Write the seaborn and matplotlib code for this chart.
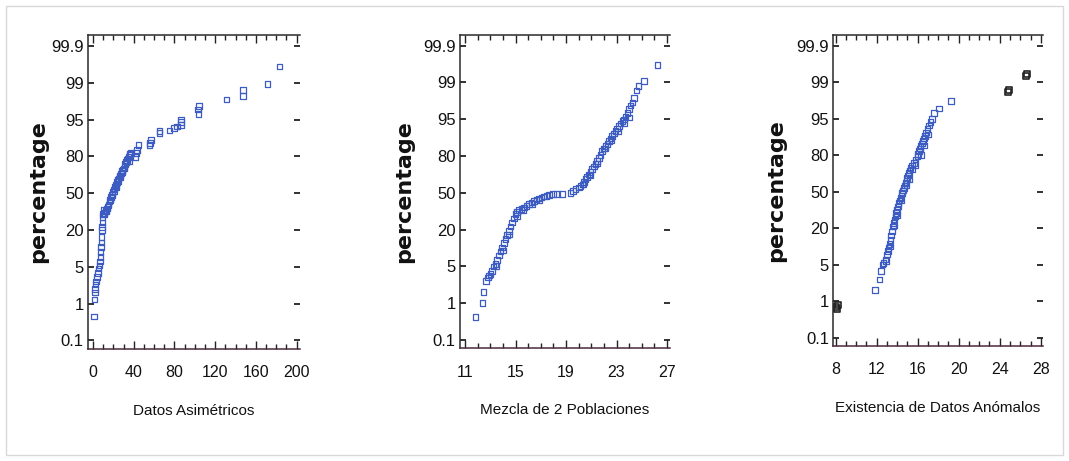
import numpy as np
import pandas as pd
import matplotlib
matplotlib.use('Agg')
import matplotlib.pyplot as plt
from matplotlib import font_manager
import seaborn as sns

# Labels of the normal probability scale (drawn evenly spaced)
pct_ticks = [0.1, 1, 5, 20, 50, 80, 95, 99, 99.9]
pct_labels = ['0.1', '1', '5', '20', '50', '80', '95', '99', '99.9']

# Panel 1: skewed data
asim_x = [0.7, 1.4, 1.8, 2.0, 2.6, 3.0, 3.8, 4.6, 5.4, 6.2, 6.8, 7.2, 7.5, 7.8, 8.1, 8.5,
          8.7, 8.8, 9.1, 9.4, 9.9, 10.4, 11.2, 12.0, 12.7, 13.5, 14.4, 15.2, 16.0, 16.8,
          17.7, 18.5, 19.3, 20.1, 20.9, 21.7, 22.6, 23.4, 24.2, 25.0, 25.8, 26.6, 27.5,
          28.3, 29.1, 30.0, 30.8, 31.6, 32.4, 33.2, 34.0, 34.8, 35.7, 36.5, 37.3, 41.6,
          42.4, 43.3, 44.6, 55.4, 56.2, 57.0, 65.2, 65.2, 75.0, 79.3, 82.5, 86.5, 86.5,
          86.5, 102.9, 103.5, 104.0, 131.0, 147.5, 147.5, 171.5, 183.0,
          11.0, 13.0, 15.0, 17.0, 19.0, 21.0, 23.0, 25.0, 27.0, 29.0, 31.0, 33.0, 36.0]
asim_pct = [0.68, 1.44, 2.2, 2.6, 3.1, 3.4, 3.9, 4.3, 4.8, 5.6, 7.2, 9.0, 11.0, 13.1, 15.0, 17.2,
            20.0, 22.7, 26.0, 30.8, 33.0, 36.2, 34.0, 35.5, 35.0, 37.5, 38.9, 41.0, 43.1, 45.0,
            47.0, 49.0, 51.2, 53.0, 53.9, 55.5, 56.6, 59.0, 60.8, 62.0, 63.5, 64.5, 66.2,
            68.0, 68.9, 70.0, 71.6, 74.0, 75.8, 77.0, 78.5, 79.5, 80.6, 81.0, 81.4, 79.7,
            81.5, 82.7, 84.7, 84.7, 85.5, 86.8, 89.5, 90.3, 90.5, 91.6, 92.2, 92.8, 94.0,
            95.0, 96.1, 95.6, 96.5, 97.2, 97.6, 98.2, 98.9, 99.4,
            33.0, 36.5, 40.0, 44.0, 48.5, 52.0, 55.0, 60.0, 63.0, 67.0, 70.0, 75.0, 76.0]

# Panel 2: mixture of two populations
mezcla_x = [11.82, 12.40, 12.48, 12.67, 12.80, 12.88, 13.0, 13.14, 13.27, 13.40, 13.53, 13.67,
            13.80, 13.94, 14.07, 14.20, 14.33, 14.47, 14.60, 14.73, 14.86, 15.00, 15.13, 15.26,
            15.46, 15.66, 15.86, 16.05, 16.25, 16.45, 16.65, 16.85, 17.05, 17.25, 17.45, 17.64,
            17.96, 18.3, 18.7, 19.36, 19.55, 19.75, 20.02, 20.15, 20.29, 20.42, 20.55, 20.68,
            20.81, 20.94, 21.07, 21.2, 21.34, 21.47, 21.6, 21.74, 21.87, 22.0, 22.13, 22.27,
            22.4, 22.53, 22.66, 22.79, 22.92, 23.06, 23.2, 23.33, 23.46, 23.59, 23.72, 23.86,
            23.99, 24.12, 24.25, 24.39, 24.57, 24.73, 25.18, 26.24,
            13.5, 14.0, 14.5, 15.1, 15.6, 16.3, 16.9, 20.4, 20.9, 21.5, 22.1, 22.6, 23.1,
            23.6, 24.0]
mezcla_pct = [0.66, 1.04, 2.2, 3.4, 3.8, 4.0, 4.2, 4.5, 5.0, 5.9, 7.5, 9.4,
              11.0, 12.7, 14.5, 16.1, 17.8, 19.5, 22.5, 25.7, 29.0, 32.6, 34.5, 35.9,
              37.0, 38.0, 39.3, 40.7, 42.0, 43.4, 44.5, 45.5, 46.3, 47.0, 47.6, 48.2,
              48.8, 48.8, 48.8, 50.0, 51.5, 53.0, 54.2, 55.5, 56.9, 59.0, 61.1, 63.0,
              65.0, 67.0, 69.2, 71.3, 73.4, 76.0, 78.5, 80.3, 82.1, 83.0, 84.0, 85.0,
              86.1, 87.1, 88.1, 89.1, 90.2, 91.2, 92.2, 93.2, 94.2, 94.8, 95.3, 95.7,
              96.1, 96.5, 96.8, 97.3, 98.1, 98.6, 99.03, 99.42,
              5.2, 11.5, 18.0, 31.0, 36.0, 41.0, 44.0, 57.0, 64.0, 74.0, 83.0, 86.5, 90.0,
              93.5, 95.2]

# Panel 3: data with outliers
anom_x = [11.86, 12.28, 12.42, 12.55, 12.68, 12.84, 13.0, 13.08, 13.17, 13.25, 13.33, 13.42,
          13.5, 13.58, 13.66, 13.75, 13.83, 13.91, 13.99, 14.07, 14.15, 14.24, 14.32, 14.40,
          14.48, 14.56, 14.64, 14.72, 14.81, 14.89, 14.97, 15.05, 15.13, 15.22, 15.3, 15.46,
          15.62, 15.79, 15.96, 16.03, 16.11, 16.2, 16.28, 16.4, 16.51, 16.6, 16.7, 16.82,
          16.94, 17.1, 17.26, 17.42, 17.59, 18.08, 19.23,
          12.9, 13.3, 13.7, 14.0, 14.4, 14.9, 15.2, 15.5, 15.8, 16.3, 16.6, 17.0]
anom_pct = [2.2, 3.4, 4.3, 5.0, 5.6, 7.2, 9.1, 10.5, 11.8, 13.5, 15.2, 17.0,
            18.7, 21.5, 24.2, 27.0, 29.6, 32.3, 35.0, 37.8, 40.7, 42.8, 44.9, 46.8,
            48.8, 51.0, 53.0, 55.0, 57.2, 59.0, 61.1, 63.2, 65.3, 67.4, 69.5, 71.6,
            73.7, 76.4, 79.1, 80.4, 81.7, 82.8, 83.8, 84.8, 85.7, 86.8, 87.8, 89.2,
            90.7, 92.2, 93.7, 94.8, 95.6, 96.1, 96.9,
            6.5, 12.5, 22.0, 31.0, 43.0, 55.0, 60.0, 68.0, 72.0, 80.0, 84.0, 88.5]
outlier_x = [8.05, 8.15, 8.2, 24.8, 24.9, 26.55, 26.65]
outlier_pct = [0.85, 0.8, 0.9, 97.9, 98.1, 99.15, 99.2]

titles = ['Datos Asimétricos', 'Mezcla de 2 Poblaciones', 'Existencia de Datos Anómalos']
x_major = [[0, 40, 80, 120, 160, 200], [11, 15, 19, 23, 27], [8, 12, 16, 20, 24, 28]]
x_minor_step = [10, 1, 1]
x_limits = [(-5, 203), (10.6, 27.2), (7.77, 28.2)]

sns.set_style('white')
installed = {f.name for f in font_manager.fontManager.ttflist}
main_font = 'Liberation Sans Narrow' if 'Liberation Sans Narrow' in installed else 'Liberation Sans'
narrow = main_font != 'Liberation Sans'
plt.rcParams['font.family'] = [main_font, 'DejaVu Sans']
for key in ['text.color', 'axes.labelcolor', 'xtick.color', 'ytick.color']:
    plt.rcParams[key] = '#111111'

tick_size = 13 if narrow else 11.5
title_size = 14 if narrow else 11


def to_pos(pct):
    # place a percentage on the evenly spaced probability axis
    return np.interp(pct, pct_ticks, np.arange(len(pct_ticks)))


fig = plt.figure(figsize=(10.69, 4.61), dpi=100)
boxes = [[0.0823, 0.244, 0.198, 0.680],
         [0.4303, 0.245, 0.196, 0.680],
         [0.7795, 0.250, 0.196, 0.675]]
label_x = [-0.186, -0.218, -0.223]
blue = '#3d5cc2'

panels = [(asim_x, asim_pct), (mezcla_x, mezcla_pct), (anom_x, anom_pct)]
for i, (xs, ps) in enumerate(panels):
    ax = fig.add_axes(boxes[i])
    df = pd.DataFrame({'x': xs, 'y': to_pos(ps)})
    sns.scatterplot(data=df, x='x', y='y', ax=ax, marker='s', s=16,
                    facecolors='none', edgecolors=blue, linewidths=0.9, legend=False)
    if i == 2:
        out = pd.DataFrame({'x': outlier_x, 'y': to_pos(outlier_pct)})
        sns.scatterplot(data=out, x='x', y='y', ax=ax, marker='s', s=18,
                        facecolors='none', edgecolors='#222222', linewidths=1.2, legend=False)

    ax.set_xlim(*x_limits[i])
    ax.set_ylim(-0.22, 8.3)
    ax.set_xticks(x_major[i])
    ax.set_xticks(np.arange(x_major[i][0], x_major[i][-1] + 0.01, x_minor_step[i]), minor=True)
    ax.set_yticks(range(len(pct_ticks)))
    ax.set_yticklabels(pct_labels)
    ax.tick_params(axis='x', which='major', direction='in', length=6, width=1,
                   top=True, bottom=True, labelsize=tick_size, pad=12, color='#222222')
    ax.tick_params(axis='x', which='minor', direction='in', length=3.5, width=1,
                   top=True, bottom=True, color='#222222')
    ax.tick_params(axis='y', which='major', direction='in', length=4, width=1.3,
                   left=True, right=True, labelsize=tick_size + 0.5, pad=3, color='#222222')
    for side in ['left', 'top', 'bottom']:
        ax.spines[side].set_color('#2a2a2a')
        ax.spines[side].set_linewidth(1.1)
    ax.spines['bottom'].set_color('#4a2a3a')
    ax.spines['right'].set_visible(False)

    ax.set_ylabel('percentage', family=['DejaVu Sans'], fontweight='bold', fontsize=16)
    ax.yaxis.set_label_coords(label_x[i], 0.5)
    ax.set_xlabel(titles[i], fontsize=title_size, labelpad=17)

fig.patches.append(plt.Rectangle((0.006, 0.012), 0.988, 0.975, transform=fig.transFigure,
                                 fill=False, edgecolor='#d8d8d8', linewidth=1))

fig.savefig('out.png', dpi=100, facecolor='white')
